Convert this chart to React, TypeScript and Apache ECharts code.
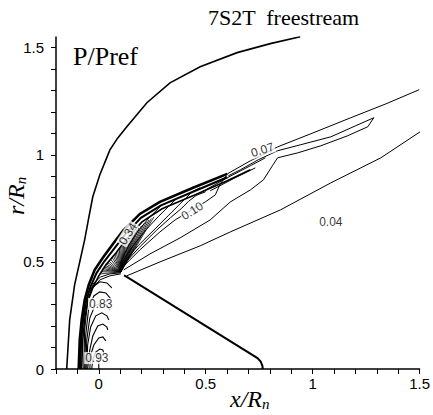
import { useEffect, useRef } from 'react';
import * as echarts from 'echarts';

// Axis ticks and labels
const xTickValues = [-0.2, -0.1, 0, 0.1, 0.2, 0.3, 0.4, 0.5, 0.6, 0.7, 0.8, 0.9, 1, 1.1, 1.2, 1.3, 1.4, 1.5];
const xLabelValues = [0, 0.5, 1, 1.5];
const yTickValues = [0, 0.1, 0.2, 0.3, 0.4, 0.5, 0.6, 0.7, 0.8, 0.9, 1, 1.1, 1.2, 1.3, 1.4, 1.5];
const yLabelValues = [0, 0.5, 1, 1.5];

// Contour lines (x/Rn, r/Rn)
const outerShock = [[-0.150, 0], [-0.136, 0.229], [-0.113, 0.393], [-0.089, 0.500], [-0.066, 0.603], [-0.047, 0.706], [-0.028, 0.804], [0.005, 0.907], [0.052, 1.023], [0.089, 1.079], [0.131, 1.131], [0.225, 1.243], [0.333, 1.336], [0.474, 1.411], [0.647, 1.477], [0.802, 1.519], [0.942, 1.551]];
const bandOuter = [[-0.094, 0], [-0.089, 0.136], [-0.080, 0.229], [-0.066, 0.322], [-0.047, 0.393], [-0.019, 0.463], [0.019, 0.519], [0.066, 0.584], [0.113, 0.645], [0.192, 0.724], [0.286, 0.780], [0.441, 0.846], [0.601, 0.911]];
const bandMid = [[-0.087, 0], [-0.082, 0.136], [-0.073, 0.229], [-0.059, 0.318], [-0.038, 0.386], [-0.010, 0.449], [0.026, 0.503], [0.073, 0.563], [0.120, 0.624], [0.197, 0.706], [0.291, 0.764], [0.446, 0.830], [0.601, 0.895]];
const bandInner = [[-0.080, 0], [-0.075, 0.136], [-0.066, 0.229], [-0.052, 0.313], [-0.028, 0.379], [0, 0.435], [0.033, 0.486], [0.080, 0.542], [0.127, 0.603], [0.202, 0.687], [0.296, 0.748], [0.451, 0.813], [0.601, 0.879], [0.709, 0.930]];
const bandTail1 = [[0.474, 0.822], [0.601, 0.893], [0.709, 0.949], [0.779, 0.986]];
const bandTail2 = [[0.521, 0.832], [0.638, 0.893], [0.732, 0.939]];
const line007 = [[0.601, 0.911], [0.709, 0.972], [0.765, 1.000], [0.836, 1.037], [0.991, 1.098], [1.178, 1.173], [1.343, 1.238], [1.498, 1.304]];
const loop007 = [[0.606, 0.902], [0.662, 0.930], [0.746, 0.977], [0.836, 1.019], [0.944, 1.047], [1.085, 1.084], [1.202, 1.136], [1.286, 1.173], [1.258, 1.131], [1.164, 1.089], [1.038, 1.042], [0.930, 1.009], [0.836, 0.986], [0.812, 0.949], [0.770, 0.883], [0.709, 0.836], [0.615, 0.780], [0.521, 0.696], [0.380, 0.612], [0.239, 0.537], [0.117, 0.463]];
const line004 = [[0.131, 0.435], [0.286, 0.500], [0.474, 0.575], [0.615, 0.640], [0.850, 0.743], [1.085, 0.869], [1.319, 0.986], [1.502, 1.107]];
const line010 = [[0.108, 0.472], [0.192, 0.556], [0.286, 0.640], [0.357, 0.696], [0.427, 0.738], [0.498, 0.780], [0.545, 0.813], [0.568, 0.864], [0.596, 0.902]];
const stair0 = [[0.105, 0.476], [0.188, 0.566], [0.270, 0.648], [0.335, 0.706], [0.385, 0.748], [0.420, 0.783], [0.455, 0.810], [0.500, 0.828]];
const stair1 = [[0.103, 0.481], [0.183, 0.575], [0.263, 0.654], [0.324, 0.715], [0.371, 0.762], [0.408, 0.799], [0.437, 0.827], [0.474, 0.846]];
const stair2 = [[0.099, 0.486], [0.160, 0.575], [0.221, 0.650], [0.277, 0.710], [0.324, 0.757], [0.362, 0.794]];
const stair3 = [[0.099, 0.491], [0.141, 0.579], [0.188, 0.650], [0.239, 0.710], [0.286, 0.757]];
const fanCenter = [0.103, 0.453];
const fanEnds = [[0.005, 0.444], [0.009, 0.454], [0.014, 0.463], [0.018, 0.470], [0.023, 0.477], [0.028, 0.484], [0.033, 0.491], [0.040, 0.498], [0.047, 0.505], [0.054, 0.514], [0.061, 0.523], [0.068, 0.530], [0.075, 0.537], [0.082, 0.544], [0.089, 0.551], [0.096, 0.561], [0.103, 0.570], [0.110, 0.577], [0.117, 0.584], [0.124, 0.594], [0.131, 0.603], [0.140, 0.612], [0.150, 0.621], [0.160, 0.631], [0.169, 0.640], [0.178, 0.650], [0.188, 0.659], [0.200, 0.669], [0.211, 0.678], [0.223, 0.687], [0.235, 0.696], [0.246, 0.703], [0.258, 0.710]];
const shoulder1 = [[0.103, 0.444], [0.052, 0.435], [0.005, 0.416], [-0.028, 0.379], [-0.047, 0.336]];
const shoulder2 = [[0.103, 0.449], [0.052, 0.444], [0.009, 0.430], [-0.023, 0.402], [-0.042, 0.360]];
const stagnationArcs = [
  [[-0.070, 0], [-0.066, 0.182], [-0.052, 0.322], [-0.028, 0.383], [0.005, 0.407], [0.038, 0.402], [0.061, 0.379]],
  [[-0.066, 0], [-0.061, 0.159], [-0.047, 0.285], [-0.023, 0.341], [0.005, 0.360], [0.033, 0.355], [0.056, 0.327]],
  [[-0.061, 0], [-0.056, 0.136], [-0.042, 0.238], [-0.019, 0.294], [0.009, 0.308], [0.038, 0.299], [0.052, 0.276]],
  [[-0.056, 0], [-0.052, 0.112], [-0.038, 0.196], [-0.014, 0.248], [0.014, 0.262], [0.038, 0.248], [0.047, 0.229]],
  [[-0.052, 0], [-0.042, 0.089], [-0.028, 0.154], [-0.005, 0.201], [0.019, 0.210], [0.038, 0.196], [0.042, 0.182]],
  [[-0.042, 0], [-0.038, 0.065], [-0.023, 0.112], [0, 0.145], [0.019, 0.150], [0.033, 0.131]],
  [[-0.033, 0], [-0.028, 0.042], [-0.014, 0.079], [0.005, 0.093], [0.019, 0.089], [0.023, 0.075]],
  [[0, 0], [0, 0.075]],
];
const body = [[0.118, 0.437], [0.131, 0.430], [0.742, 0.051], [0.757, 0.035], [0.765, 0.015], [0.767, 0]];

// Contour labels
const labelTexts = ['0.93', '0.83', '0.34', '0.10', '0.07', '0.04'];
const labelPositions = [[-0.009, 0.051], [0.009, 0.304], [0.136, 0.631], [0.437, 0.738], [0.765, 1.023], [1.085, 0.687]];
const labelAngles = [0, 0, 58, 32, 18, 0];

const serif = '"Liberation Serif", "Times New Roman", serif';
const sans = '"Liberation Sans", Arial, sans-serif';

function linesSeries(paths: number[][][], width: number) {
  return {
    type: 'lines',
    coordinateSystem: 'cartesian2d',
    polyline: true,
    silent: true,
    z: 3,
    lineStyle: { color: '#000', width, opacity: 1, curveness: 0 },
    data: paths.map((p) => ({ coords: p })),
  };
}

export default function App() {
  const ref = useRef<HTMLDivElement>(null);
  useEffect(() => {
    const chart = echarts.init(ref.current!, null, { renderer: 'svg' });
    const axisCommon = {
      type: 'value',
      axisLine: { show: true, onZero: false, lineStyle: { color: '#000', width: 1.5 } },
      splitLine: { show: false },
    };
    chart.setOption({
      animation: false,
      backgroundColor: '#fff',
      grid: { left: 56, top: 37, right: 13, bottom: 46 },
      xAxis: {
        ...axisCommon,
        min: -0.2,
        max: 1.5,
        axisTick: { show: true, customValues: xTickValues, length: 5, lineStyle: { color: '#000', width: 1 } },
        axisLabel: { customValues: xLabelValues, color: '#000', fontSize: 15, fontFamily: sans, margin: 7, formatter: (v: number) => String(v) },
      },
      yAxis: {
        ...axisCommon,
        min: 0,
        max: 1.55,
        axisTick: { show: true, customValues: yTickValues, length: 5, lineStyle: { color: '#000', width: 1 } },
        axisLabel: { customValues: yLabelValues, color: '#000', fontSize: 15, fontFamily: sans, margin: 12, formatter: (v: number) => String(v) },
      },
      graphic: [
        { type: 'text', left: 208, top: 6, style: { text: '7S2T  freestream', font: `22px ${serif}`, fill: '#000' } },
        { type: 'text', left: 73, top: 43, style: { text: 'P/Pref', font: `26px ${serif}`, fill: '#000' } },
        {
          type: 'text', left: 230, top: 387,
          style: {
            text: '{a|x/R}{b|n}', fill: '#000',
            rich: { a: { fontFamily: serif, fontStyle: 'italic', fontSize: 24 }, b: { fontFamily: serif, fontStyle: 'italic', fontSize: 15, padding: [9, 0, 0, 0] } },
          },
        },
        {
          type: 'text', x: 4, y: 215, rotation: Math.PI / 2,
          style: {
            text: '{a|r/R}{b|n}', fill: '#000',
            rich: { a: { fontFamily: serif, fontStyle: 'italic', fontSize: 24 }, b: { fontFamily: serif, fontStyle: 'italic', fontSize: 15, padding: [9, 0, 0, 0] } },
          },
        },
      ],
      series: [
        linesSeries([outerShock], 1.6),
        linesSeries([bandOuter], 2.6),
        linesSeries([bandMid], 2),
        linesSeries([bandInner], 1.6),
        linesSeries([bandTail1, bandTail2, line007, loop007, line004, line010, stair0, stair1, stair2, stair3], 1),
        linesSeries(fanEnds.map((e) => [fanCenter, e]), 0.8),
        linesSeries([shoulder1, shoulder2], 1),
        linesSeries(stagnationArcs, 1.1),
        linesSeries([body], 2),
        {
          type: 'scatter',
          silent: true,
          z: 5,
          symbolSize: 1,
          itemStyle: { color: 'rgba(255,255,255,0)' },
          data: labelTexts.map((t, i) => ({
            value: labelPositions[i],
            label: {
              show: true, position: 'inside', formatter: t, rotate: labelAngles[i],
              color: '#000', textBorderWidth: 0, fontSize: 12, fontFamily: sans, backgroundColor: '#fff', padding: [0, 1],
            },
          })),
        },
      ],
    });
    return () => chart.dispose();
  }, []);
  return <div ref={ref} style={{ position: 'absolute', left: 0, top: 0, width: 433, height: 415, background: '#fff' }} />;
}
